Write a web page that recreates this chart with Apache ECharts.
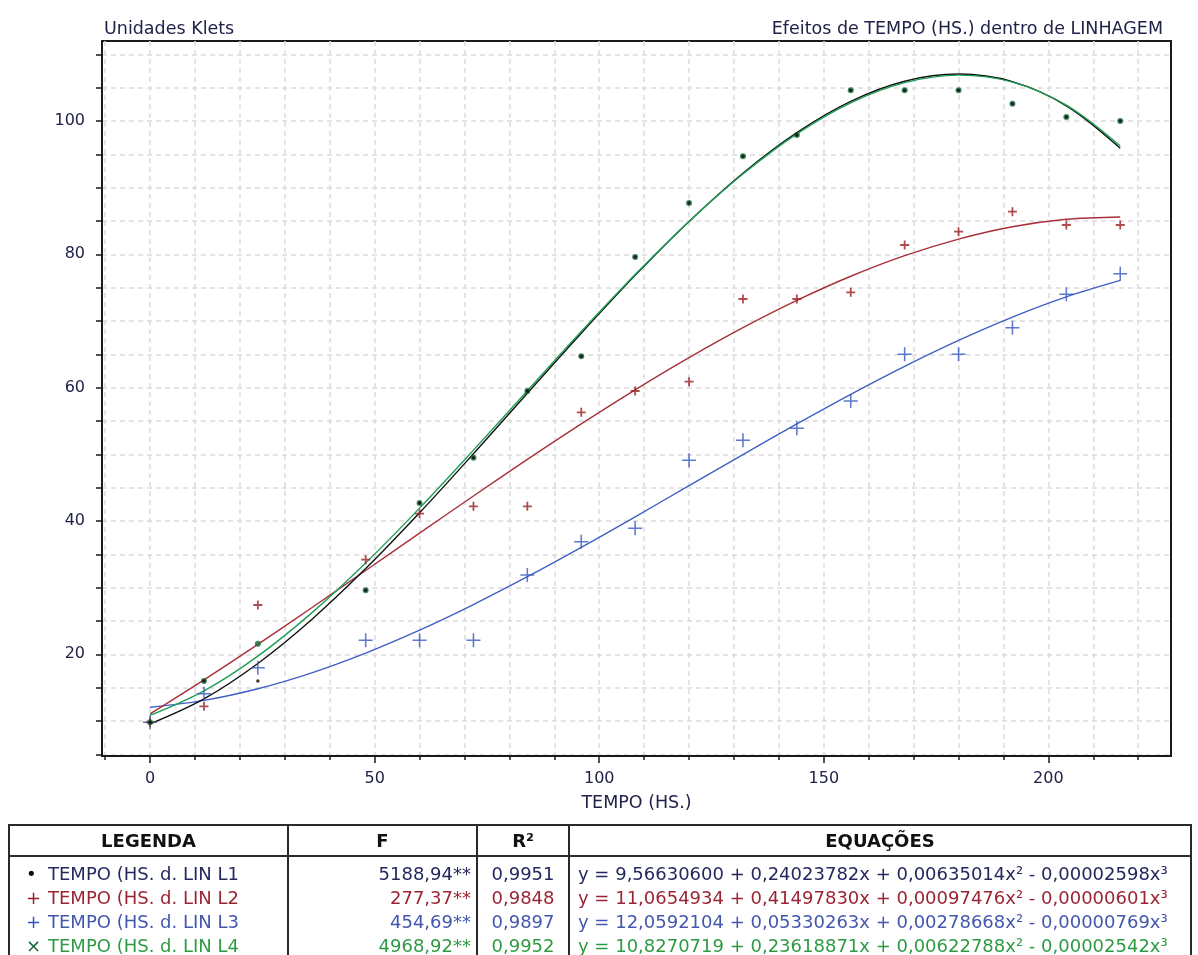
<!DOCTYPE html>
<html>
<head>
<meta charset="utf-8">
<script src="https://cdn.jsdelivr.net/npm/echarts@6/dist/echarts.min.js"></script>
<style>
    html, body { margin: 0; padding: 0; background: #fff; overflow: hidden; }
    #chart { position: absolute; left: 0; top: 0; width: 1198px; height: 955px; }
    #legend {
        position: absolute; left: 8px; top: 824px; width: 1182px;
        border-collapse: collapse; table-layout: fixed;
        font-family: 'DejaVu Sans', sans-serif; font-size: 18px;
    }
    #legend th, #legend td { border-left: 2px solid #2a2a2a; border-right: 2px solid #2a2a2a; padding: 0; white-space: nowrap; overflow: hidden; }
    #legend th { border-top: 2px solid #2a2a2a; border-bottom: 2px solid #2a2a2a; height: 29px; font-weight: bold; color: #111; text-align: center; }
    #legend td { height: 24px; line-height: 24px; }
    #legend tr.first td { padding-top: 5px; }
    #legend td.name { padding-left: 16px; }
    #legend td.num { text-align: right; padding-right: 5px; }
    #legend td.r2 { text-align: center; }
    #legend td.eq { padding-left: 8px; }
    #legend .mk { display: inline-block; width: 22px; }
</style>
</head>
<body>
<div id="chart"></div>
<table id="legend">
    <colgroup><col style="width:279px"><col style="width:189px"><col style="width:92px"><col style="width:622px"></colgroup>
    <thead><tr><th>LEGENDA</th><th>F</th><th>R²</th><th>EQUAÇÕES</th></tr></thead>
    <tbody id="legendBody"></tbody>
</table>
<script>
// observed means (hours of TEMPO)
const hours = [0, 12, 24, 48, 60, 72, 84, 96, 108, 120, 132, 144, 156, 168, 180, 192, 204, 216];
const l1Obs = [9.8, 16.0, 16.0, 29.6, 42.7, 49.5, 59.5, 64.7, 79.6, 87.7, 94.7, 97.9, 104.6, 104.6, 104.6, 102.6, 100.6, 100.0];
const l2Obs = [9.8, 12.2, 27.4, 34.2, 41.1, 42.2, 42.2, 56.3, 59.5, 60.9, 73.3, 73.3, 74.3, 81.4, 83.4, 86.4, 84.4, 84.4];
const l3Obs = [9.8, 14.1, 18.0, 22.1, 22.1, 22.1, 31.9, 36.9, 38.9, 49.1, 52.1, 53.9, 58.0, 65.0, 65.0, 69.0, 74.0, 77.1];
const l4Obs = [9.8, 16.0, 21.6, 29.6, 42.7, 49.5, 59.5, 64.7, 79.6, 87.7, 94.7, 97.9, 104.6, 104.6, 104.6, 102.6, 100.6, 100.0];

// fitted curves
const fitHours = [0, 12, 24, 36, 48, 60, 72, 84, 96, 108, 120, 132, 144, 156, 168, 180, 192, 204, 216];
const l1Fit = [9.57, 13.32, 18.63, 25.23, 32.86, 41.23, 50.09, 59.16, 68.17, 76.85, 84.94, 92.17, 98.26, 102.95, 105.97, 107.04, 105.90, 102.28, 95.91];
const l2Fit = [11.07, 16.18, 21.50, 26.99, 32.57, 38.18, 43.75, 49.24, 54.57, 59.68, 64.51, 69.00, 73.09, 76.71, 79.80, 82.29, 84.14, 85.26, 85.61];
const l3Fit = [12.06, 13.09, 14.84, 17.23, 20.19, 23.63, 27.47, 31.64, 36.05, 40.63, 45.30, 49.96, 54.56, 59.00, 63.20, 67.09, 70.59, 73.62, 76.09];
const l4Fit = [10.83, 14.51, 19.73, 26.22, 33.70, 41.93, 50.63, 59.54, 68.41, 76.96, 84.93, 92.05, 98.08, 102.73, 105.75, 106.88, 105.84, 102.38, 96.24];

// axis ticks and labels
const xTicks = [-10, 0, 10, 20, 30, 40, 50, 60, 70, 80, 90, 100, 110, 120, 130, 140, 150, 160, 170, 180, 190, 200, 210, 220];
const xLabels = [0, 50, 100, 150, 200];
const yTicks = [5, 10, 15, 20, 25, 30, 35, 40, 45, 50, 55, 60, 65, 70, 75, 80, 85, 90, 95, 100, 105, 110];
const yLabels = [20, 40, 60, 80, 100];

// legend table
const legendMarks = ['•', '+', '+', '×'];
const legendNames = ['TEMPO (HS. d. LIN L1', 'TEMPO (HS. d. LIN L2', 'TEMPO (HS. d. LIN L3', 'TEMPO (HS. d. LIN L4'];
const fValues = ['5188,94**', '277,37**', '454,69**', '4968,92**'];
const r2Values = ['0,9951', '0,9848', '0,9897', '0,9952'];
const equations = [
    'y = 9,56630600 + 0,24023782x + 0,00635014x² - 0,00002598x³',
    'y = 11,0654934 + 0,41497830x + 0,00097476x² - 0,00000601x³',
    'y = 12,0592104 + 0,05330263x + 0,00278668x² - 0,00000769x³',
    'y = 10,8270719 + 0,23618871x + 0,00622788x² - 0,00002542x³'
];

const textColors = ['#24285e', '#9b2434', '#4257ad', '#2f9a44'];
const lineColors = ['#111111', '#a8303a', '#3f5fc4', '#1f9e57'];
const markColors = ['#0a0a0a', '#9a1f22', '#3556bf', '#17693a'];
const FONT = 'DejaVu Sans';
const TXT = '#20224a';

// build legend rows
const body = document.getElementById('legendBody');
legendNames.forEach((name, i) => {
    const tr = document.createElement('tr');
    if (i === 0) tr.className = 'first';
    tr.style.color = textColors[i];
    tr.innerHTML =
        `<td class="name"><span class="mk" style="color:${markColors[i]}">${legendMarks[i]}</span>${name}</td>` +
        `<td class="num">${fValues[i]}</td>` +
        `<td class="r2">${r2Values[i]}</td>` +
        `<td class="eq">${equations[i]}</td>`;
    body.appendChild(tr);
});

const pair = (xs, ys) => xs.map((x, i) => [x, ys[i]]);

// filled plus shapes for markers
const plusSmall = 'path://M4,0H6V4H10V6H6V10H4V6H0V4H4Z';
const plusThin = 'path://M4.45,0H5.55V4.45H10V5.55H5.55V10H4.45V5.55H0V4.45H4.45Z';

const chart = echarts.init(document.getElementById('chart'));

const fitLine = (name, data, color, z) => ({
    name, type: 'line', data, smooth: 0.35, showSymbol: false, silent: true, z,
    lineStyle: { color, width: 1.4 }
});

const option = {
    backgroundColor: '#fff',
    animation: false,
    textStyle: { fontFamily: FONT },
    title: [
        { text: 'Unidades Klets', left: 99, top: 15, textStyle: { fontFamily: FONT, fontSize: 17.5, fontWeight: 'normal', color: TXT } },
        { text: 'Efeitos de TEMPO (HS.) dentro de LINHAGEM', right: 30, top: 15, textStyle: { fontFamily: FONT, fontSize: 17.5, fontWeight: 'normal', color: TXT } }
    ],
    grid: { left: 102, right: 27, top: 41, bottom: 199, show: true, borderColor: '#1a1a1a', borderWidth: 2, backgroundColor: '#fff' },
    xAxis: [
        {
            type: 'value', min: -10.7, max: 227.3, position: 'bottom',
            name: 'TEMPO (HS.)', nameLocation: 'middle', nameGap: 38,
            nameTextStyle: { fontFamily: FONT, fontSize: 17.5, color: TXT },
            axisLine: { show: true, onZero: false, lineStyle: { color: '#1a1a1a', width: 2 } },
            axisTick: { show: true, length: 4, customValues: xTicks, lineStyle: { color: '#1a1a1a', width: 1.5 } },
            axisLabel: { customValues: xLabels, fontFamily: FONT, fontSize: 16, color: TXT, margin: 15 },
            splitLine: { show: true, lineStyle: { type: [5, 4], color: '#dcdcdc', width: 1.5 } }
        },
        {
            type: 'value', min: -10.7, max: 227.3, position: 'bottom',
            axisLine: { show: false },
            axisTick: { show: true, length: 7, customValues: xLabels, lineStyle: { color: '#1a1a1a', width: 1.5 } },
            axisLabel: { show: false },
            splitLine: { show: false }
        }
    ],
    yAxis: {
        type: 'value', min: 4.75, max: 112,
        axisLine: { show: true, onZero: false, lineStyle: { color: '#1a1a1a', width: 2 } },
        axisTick: { show: true, length: 6, customValues: yTicks, lineStyle: { color: '#1a1a1a', width: 1.5 } },
        axisLabel: { customValues: yLabels, fontFamily: FONT, fontSize: 16, color: TXT, margin: 17 },
        splitLine: { show: true, lineStyle: { type: [5, 4], color: '#dcdcdc', width: 1.5 } }
    },
    series: [
        fitLine('L3 ajuste', pair(fitHours, l3Fit), lineColors[2], 2),
        fitLine('L2 ajuste', pair(fitHours, l2Fit), lineColors[1], 2),
        fitLine('L1 ajuste', pair(fitHours, l1Fit), lineColors[0], 3),
        fitLine('L4 ajuste', pair(fitHours, l4Fit), lineColors[3], 4),
        {
            name: 'L3', type: 'scatter', data: pair(hours, l3Obs), symbol: plusThin, symbolSize: 14, z: 5,
            itemStyle: { color: markColors[2] }
        },
        {
            name: 'L2', type: 'scatter', data: pair(hours, l2Obs), symbol: plusSmall, symbolSize: 9, z: 5,
            itemStyle: { color: markColors[1] }
        },
        {
            name: 'L4', type: 'scatter', data: pair(hours, l4Obs), symbol: 'circle', symbolSize: 6, z: 6,
            itemStyle: { color: markColors[3] }
        },
        {
            name: 'L1', type: 'scatter', data: pair(hours, l1Obs), symbol: 'circle', symbolSize: 3.5, z: 7,
            itemStyle: { color: markColors[0] }
        }
    ]
};

chart.setOption(option);
</script>
</body>
</html>
